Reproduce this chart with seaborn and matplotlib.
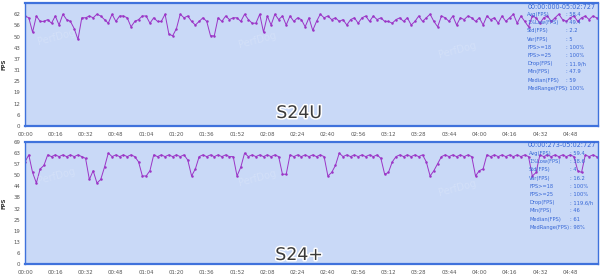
import numpy as np
import pandas as pd
import matplotlib
matplotlib.use("Agg")
import matplotlib.pyplot as plt
import matplotlib.patheffects as pe
import seaborn as sns

# ---------------- data ----------------
time_s = list(range(0, 304, 2))

fps_s24u = [
    61, 60, 52, 61, 58, 58, 59, 57,
    61, 56, 62, 59, 58, 54, 48, 60,
    60, 61, 60, 62, 61, 59, 57, 62,
    58, 61, 61, 60, 55, 58, 59, 61,
    61, 57, 60, 58, 58, 62, 51, 50,
    54, 62, 60, 61, 58, 56, 58, 60,
    58, 50, 50, 60, 58, 61, 59, 60,
    60, 58, 62, 59, 57, 57, 62, 52,
    61, 56, 62, 59, 61, 56, 61, 58,
    60, 59, 55, 60, 53, 58, 62, 60,
    61, 59, 60, 58, 59, 56, 59, 60,
    57, 60, 61, 58, 61, 59, 60, 58,
    58, 57, 59, 60, 58, 60, 56, 58,
    61, 58, 60, 62, 58, 55, 61, 60,
    58, 61, 56, 60, 59, 61, 60, 58,
    60, 56, 61, 59, 60, 57, 61, 58,
    60, 62, 57, 61, 58, 55, 61, 60,
    57, 60, 61, 58, 60, 62, 59, 58,
    60, 61, 58, 60, 61, 59, 61, 60,
]

fps_s24p = [
    58, 62, 52, 46, 54, 56, 62,
    61, 62, 61, 62, 61, 62, 61, 62, 61,
    60, 48, 53, 46, 48, 55, 63,
    61, 62, 61, 62, 61, 62, 61,
    58, 50, 50, 53, 62,
    61, 62, 61, 62, 61, 62, 61, 62,
    59, 50, 54, 61,
    62, 61, 62, 61, 62, 61, 62, 61,
    61, 50, 55, 63,
    61, 62, 61, 62, 61, 62, 61, 62,
    61, 51, 51, 62,
    61, 62, 61, 62, 61, 62, 61, 62,
    61, 50, 52, 56, 63,
    61, 62, 61, 62, 61, 62, 61, 62, 61, 62,
    60, 51, 52, 58, 61,
    62, 61, 62, 61, 62, 61, 62,
    58, 50, 53, 57, 61,
    62, 61, 62, 61, 62, 61, 62,
    61, 50, 53, 54, 62,
    61, 62, 61, 62, 61, 62, 61, 62, 61, 62,
    61, 50, 52, 62,
    61, 62, 61, 62, 61, 62, 61, 62, 61,
    53, 52, 62,
    61, 62, 61,
]

device_names = ["S24U", "S24+"]
ranges = ["00:00:000-05:02:727", "00:00:273-05:02:727"]
stat_labels = ["Avg(FPS)", "1%Low(FPS)", "Std(FPS)", "Var(FPS)", "FPS>=18",
               "FPS>=25", "Drop(FPS)", "Min(FPS)", "Median(FPS)", "MedRange(FPS)"]
stats_s24u = ["58.4", "49.4", "2.2", "5", "100%", "100%", "11.9/h", "47.9", "59", "100%"]
stats_s24p = ["59.4", "38.6", "4", "16.2", "100%", "100%", "119.6/h", "46", "61", "98%"]

xticks = list(range(0, 289, 16))
yticks_top = [0, 6.2, 12.4, 18.6, 24.8, 31, 37.2, 43.4, 49.6, 55.8, 62]
yticks_bot = [0, 6.3, 12.6, 18.9, 25.2, 31.5, 37.8, 44.1, 50.4, 56.7, 63, 69.3]
ytick_labels_top = ["0", "6", "12", "19", "25", "31", "37", "43", "50", "56", "62"]
ytick_labels_bot = ["0", "6", "13", "19", "25", "32", "38", "44", "50", "57", "63", "69"]

# ---------------- style ----------------
sns.set_theme(style="white")
plt.rcParams['font.family'] = ['DejaVu Sans']

W, H = 600, 276
fig = plt.figure(figsize=(W / 100, H / 100), dpi=100)

BG = "#c9d9f7"
EDGE = "#3f72dc"
LINE = "#9b35c6"
TXT_BLUE = "#3566d6"

def px_axes(x0, y0, x1, y1):
    return fig.add_axes([x0 / W, 1 - y1 / H, (x1 - x0) / W, (y1 - y0) / H])

panels = [
    dict(ax=px_axes(25, 3, 598, 126), fps=fps_s24u, ymax=68.2, yt=yticks_top,
         ytl=ytick_labels_top, stats=stats_s24u, name=device_names[0], rng=ranges[0],
         head_y=7, row0=14.5, lab_x=527, val_x=566, name_y=113),
    dict(ax=px_axes(25, 142, 598, 264), fps=fps_s24p, ymax=69.3, yt=yticks_bot,
         ytl=ytick_labels_bot, stats=stats_s24p, name=device_names[1], rng=ranges[1],
         head_y=145, row0=153.5, lab_x=529, val_x=570, name_y=255),
]

for p in panels:
    ax = p["ax"]
    df = pd.DataFrame({"t": time_s, "fps": p["fps"]})
    sns.lineplot(data=df, x="t", y="fps", ax=ax, color=LINE, linewidth=0.7,
                 marker="o", markersize=1.8, markeredgewidth=0, markerfacecolor=LINE)
    ax.set_facecolor(BG)
    ax.set_xlim(0, 302.7)
    ax.set_ylim(0, p["ymax"])
    ax.set_xticks(xticks)
    ax.set_xticklabels([f"{t // 60:02d}:{t % 60:02d}" for t in xticks])
    ax.set_yticks(p["yt"])
    ax.set_yticklabels(p["ytl"])
    ax.tick_params(axis="both", labelsize=3.9, colors="#555555", length=2, width=0.5, pad=1.5)
    ax.tick_params(axis="x", pad=2.5)
    ax.set_xlabel("")
    ax.set_ylabel("FPS", fontsize=3.9, fontweight="bold", color="#333333", labelpad=5)
    for side, sp in ax.spines.items():
        sp.set_visible(True)
        sp.set_color(EDGE)
        sp.set_linewidth(1.6 if side in ("top", "bottom") else 1.0)

    # watermarks
    for wx, wy in [(0.02, 0.72), (0.37, 0.7), (0.72, 0.62)]:
        ax.text(wx, wy, "PerfDog", transform=ax.transAxes, fontsize=7, color="white",
                alpha=0.18, rotation=15, ha="left", va="center")

    # stats block
    fig.text(596 / W, 1 - p["head_y"] / H, p["rng"], fontsize=4.7, color=TXT_BLUE,
             ha="right", va="center")
    for i, (lab, val) in enumerate(zip(stat_labels, p["stats"])):
        yy = p["row0"] + i * 8.2
        fig.text(p["lab_x"] / W, 1 - yy / H, lab, fontsize=3.7, color=TXT_BLUE,
                 ha="left", va="center")
        fig.text(p["val_x"] / W, 1 - yy / H, ": " + val, fontsize=3.7, color=TXT_BLUE,
                 ha="left", va="center")

    # device name
    fig.text(299 / W, 1 - p["name_y"] / H, p["name"], fontsize=12.5, color="#3a3a3a",
             ha="center", va="center",
             path_effects=[pe.withStroke(linewidth=2.2, foreground="white")])

fig.savefig("out.png", dpi=100)
